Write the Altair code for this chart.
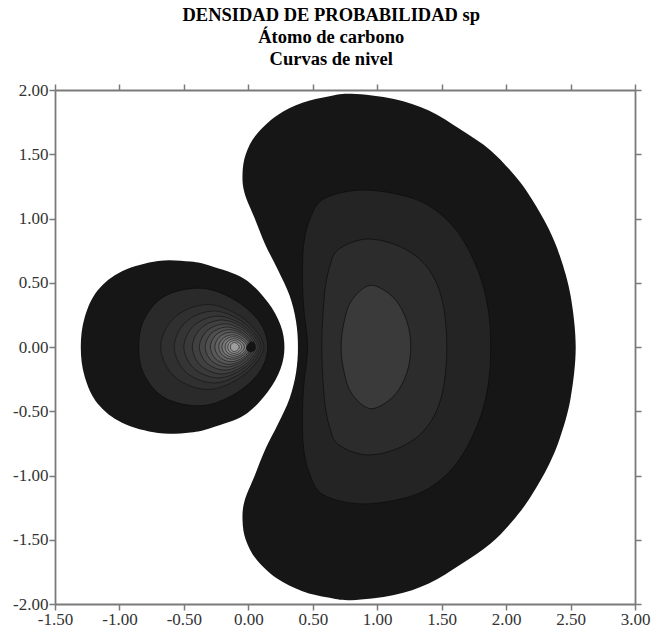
import altair as alt
import pandas as pd

TITLE = ["DENSIDAD DE PROBABILIDAD sp", "Átomo de carbono", "Curvas de nivel"]
X_TICKS = [-1.5, -1.0, -0.5, 0.0, 0.5, 1.0, 1.5, 2.0, 2.5, 3.0]
Y_TICKS = [-2.0, -1.5, -1.0, -0.5, 0.0, 0.5, 1.0, 1.5, 2.0]

# ---- large lobe contours ----
BIG_OUTER_X = [0.80, 1.13, 1.40, 1.65, 1.88, 2.07, 2.20, 2.33, 2.42, 2.50, 2.54,
               2.50, 2.42, 2.33, 2.20, 2.07, 1.88, 1.65, 1.40, 1.13, 0.80,
               0.62, 0.42, 0.22, 0.06, -0.02, -0.045, -0.03, 0.05, 0.13, 0.23, 0.32, 0.37,
               0.385, 0.37, 0.32, 0.23, 0.13, 0.05, -0.03, -0.045, -0.02, 0.06, 0.22, 0.42, 0.62]
BIG_OUTER_Y = [1.97, 1.93, 1.84, 1.69, 1.53, 1.33, 1.15, 0.92, 0.70, 0.40, 0.00,
               -0.40, -0.70, -0.92, -1.15, -1.33, -1.53, -1.69, -1.84, -1.93, -1.97,
               -1.95, -1.90, -1.80, -1.65, -1.50, -1.35, -1.20, -1.00, -0.80, -0.60, -0.40, -0.20,
               0.00, 0.20, 0.40, 0.60, 0.80, 1.00, 1.20, 1.35, 1.50, 1.65, 1.80, 1.90, 1.95]

BIG_L2_X = [0.85, 1.15, 1.40, 1.62, 1.78, 1.86, 1.88, 1.86, 1.78, 1.62, 1.40, 1.15,
            0.85, 0.58, 0.48, 0.43, 0.42, 0.43, 0.46, 0.43, 0.42, 0.43, 0.48, 0.58]
BIG_L2_Y = [1.22, 1.19, 1.10, 0.90, 0.60, 0.30, 0.00, -0.30, -0.60, -0.90, -1.10, -1.19,
            -1.22, -1.15, -1.00, -0.80, -0.55, -0.30, 0.00, 0.30, 0.55, 0.80, 1.00, 1.15]

BIG_L3_X = [0.92, 1.18, 1.38, 1.50, 1.54, 1.50, 1.38, 1.18, 0.92, 0.70, 0.63, 0.59, 0.57, 0.59, 0.63, 0.70]
BIG_L3_Y = [0.84, 0.78, 0.63, 0.38, 0.00, -0.38, -0.63, -0.78, -0.84, -0.76, -0.62, -0.40, 0.00, 0.40, 0.62, 0.76]

BIG_L4_X = [0.95, 1.13, 1.23, 1.26, 1.23, 1.13, 0.95, 0.80, 0.74, 0.72, 0.74, 0.80]
BIG_L4_Y = [0.48, 0.38, 0.20, 0.00, -0.20, -0.38, -0.48, -0.36, -0.18, 0.00, 0.18, 0.36]

# ---- small lobe contours ----
SMALL_OUTER_X = [0.28, 0.25, 0.15, -0.03, -0.29, -0.45, -0.70, -0.98, -1.17, -1.27, -1.30,
                 -1.27, -1.17, -0.98, -0.70, -0.45, -0.29, -0.03, 0.15, 0.25]
SMALL_OUTER_Y = [0.00, 0.17, 0.35, 0.53, 0.63, 0.665, 0.67, 0.59, 0.44, 0.23, 0.00,
                 -0.23, -0.44, -0.59, -0.67, -0.665, -0.63, -0.53, -0.35, -0.17]

SMALL_L2_X = [0.15, 0.09, -0.08, -0.31, -0.53, -0.70, -0.82, -0.85, -0.82, -0.70, -0.53, -0.31, -0.08, 0.09]
SMALL_L2_Y = [0.00, 0.19, 0.35, 0.45, 0.44, 0.36, 0.19, 0.00, -0.19, -0.36, -0.44, -0.45, -0.35, -0.19]

# inner rings around the nucleus: left edge, right edge, half height
RING_LEFT = [-0.68, -0.575, -0.50, -0.435, -0.38, -0.335, -0.295, -0.26, -0.23, -0.205, -0.18, -0.16, -0.14]
RING_RIGHT = [0.12, 0.10, 0.085, 0.07, 0.055, 0.04, 0.03, 0.02, 0.005, -0.01, -0.03, -0.05, -0.07]
RING_HALF = [0.33, 0.28, 0.24, 0.21, 0.18, 0.155, 0.135, 0.115, 0.095, 0.08, 0.065, 0.05, 0.035]

SPOT_X = [-0.015, 0.015, 0.05, 0.055, 0.02, -0.01]
SPOT_Y = [0.00, 0.04, 0.03, -0.02, -0.04, -0.025]

# ---- styles ----
BIG_FILLS = ["#161616", "#242424", "#2c2c2c", "#3a3a3a"]
SMALL_FILLS = ["#161616", "#2a2a2a"]
RING_FILLS = ["#303030", "#353535", "#3a3a3a", "#404040", "#474747", "#4f4f4f", "#585858",
              "#626262", "#6d6d6d", "#787878", "#848484", "#909090", "#9d9d9d"]
EGG_U = [0.0, 0.08, 0.25, 0.48, 0.72, 0.90, 1.0, 0.90, 0.72, 0.48, 0.25, 0.08]
EGG_V = [0.0, 0.55, 0.88, 1.0, 0.80, 0.45, 0.0, -0.45, -0.80, -1.0, -0.88, -0.55]

xs = alt.Scale(domain=[-1.5, 3.0], nice=False, zero=False)
ys = alt.Scale(domain=[-2.0, 2.0], nice=False, zero=False)


def poly(xv, yv, fill, stroke=None, sw=0.0):
    df = pd.DataFrame({"x": xv, "y": yv, "i": list(range(len(xv)))})
    kw = dict(filled=True, fill=fill, interpolate="cardinal-closed", clip=True)
    if stroke:
        kw.update(stroke=stroke, strokeWidth=sw)
    else:
        kw.update(strokeWidth=0)
    return alt.Chart(df).mark_line(**kw).encode(
        x=alt.X("x:Q", scale=xs, axis=None),
        y=alt.Y("y:Q", scale=ys, axis=None),
        order=alt.Order("i:Q"),
    )


layers = []
layers.append(poly(BIG_OUTER_X, BIG_OUTER_Y, BIG_FILLS[0]))
layers.append(poly(BIG_L2_X, BIG_L2_Y, BIG_FILLS[1], "#0c0c0c", 0.7))
layers.append(poly(BIG_L3_X, BIG_L3_Y, BIG_FILLS[2], "#0c0c0c", 0.7))
layers.append(poly(BIG_L4_X, BIG_L4_Y, BIG_FILLS[3], "#0c0c0c", 0.7))
layers.append(poly(SMALL_OUTER_X, SMALL_OUTER_Y, SMALL_FILLS[0]))
layers.append(poly(SMALL_L2_X, SMALL_L2_Y, SMALL_FILLS[1], "#0c0c0c", 0.7))
for L, R, H, f in zip(RING_LEFT, RING_RIGHT, RING_HALF, RING_FILLS):
    rx = [L + u * (R - L) for u in EGG_U]
    ry = [v * H for v in EGG_V]
    layers.append(poly(rx, ry, f, "#111111", 0.6))
layers.append(poly(SPOT_X, SPOT_Y, "#141414"))

frame_df = pd.DataFrame({"x": [X_TICKS[0], X_TICKS[-1]], "y": [Y_TICKS[0], Y_TICKS[-1]]})

ax_style = dict(
    domainColor="#7a7a7a", domainWidth=1.8, tickColor="#7a7a7a", tickWidth=1.5, tickSize=6,
    labelFont="Liberation Serif", labelFontSize=17, labelColor="#333333", grid=False,
    title=None, labelPadding=1, labelFlush=False, labelOverlap=False, format=".2f",
    labelExpr="replace(datum.label, '\u2212', '-')",
)

axes_main = alt.Chart(frame_df).mark_point(opacity=0).encode(
    x=alt.X("x:Q", scale=xs, axis=alt.Axis(values=X_TICKS, orient="bottom", **ax_style)),
    y=alt.Y("y:Q", scale=ys, axis=alt.Axis(values=Y_TICKS, orient="left", **ax_style)),
)
axes_other = alt.Chart(frame_df).mark_point(opacity=0).encode(
    x=alt.X("x:Q", scale=xs, axis=alt.Axis(values=X_TICKS, orient="top", labels=False, **ax_style)),
    y=alt.Y("y:Q", scale=ys, axis=alt.Axis(values=Y_TICKS, orient="right", labels=False, **ax_style)),
)

chart = alt.layer(*layers, axes_main, axes_other).resolve_axis(
    x="independent", y="independent"
).properties(
    width=580,
    height=514,
    padding={"left": 12, "top": 5, "right": 10, "bottom": 2},
    title=alt.Title(
        text=TITLE, font="Liberation Serif", fontSize=18.5, fontWeight="bold", color="#000000",
        lineHeight=22, anchor="middle", frame="bounds", offset=13,
    ),
).configure_view(stroke=None)

chart.save("out.html", embed_options={"renderer": "svg", "actions": False})
